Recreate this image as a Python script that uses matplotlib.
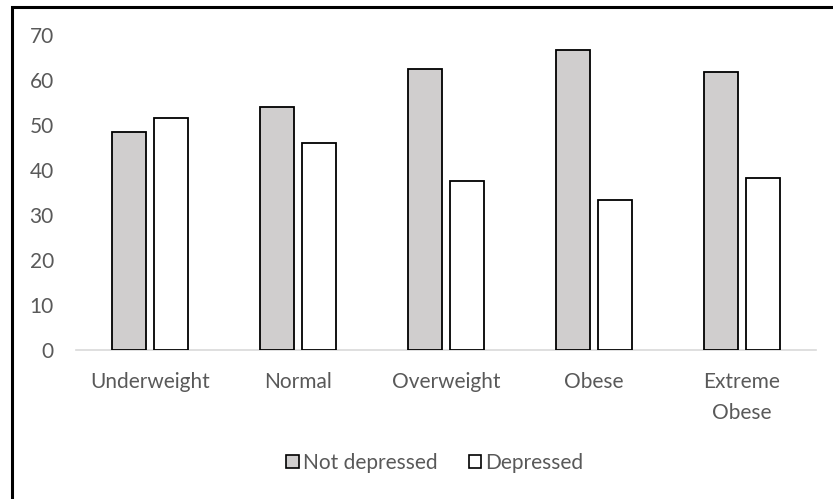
import matplotlib
matplotlib.use("Agg")
import matplotlib.pyplot as plt
import numpy as np
from matplotlib.patches import Patch, Rectangle

categories = ["Underweight", "Normal", "Overweight", "Obese", "Extreme\nObese"]
not_depressed = [48.4, 54.0, 62.4, 66.6, 61.7]
depressed = [51.6, 46.0, 37.6, 33.4, 38.3]
series_names = ["Not depressed", "Depressed"]
y_ticks = [0, 10, 20, 30, 40, 50, 60, 70]

W, H = 833, 499
plt.rcParams["font.family"] = ["Lato", "DejaVu Sans"]
FS = 15

fig = plt.figure(figsize=(W / 100, H / 100), dpi=100)
ax = fig.add_axes([76 / W, 1 - 350 / H, (816 - 76) / W, (350 - 35) / H])

x = np.arange(len(categories))
bw = 0.23
off = 0.143
ax.bar(x - off, not_depressed, bw, color="#d0cece", edgecolor="black", linewidth=1.3, zorder=3)
ax.bar(x + off, depressed, bw, color="white", edgecolor="black", linewidth=1.3, zorder=3)

ax.set_xlim(-0.5, len(categories) - 0.5)
ax.set_ylim(0, 70)
ax.set_yticks(y_ticks)
ax.set_xticks(x)
ax.set_xticklabels(categories, linespacing=1.7)
ax.tick_params(axis="both", length=0, labelsize=FS, colors="#595959")
ax.tick_params(axis="y", pad=16)
ax.tick_params(axis="x", pad=16)
for s in ["top", "right", "left"]:
    ax.spines[s].set_visible(False)
ax.spines["bottom"].set_color("#d9d9d9")
ax.spines["bottom"].set_linewidth(1.2)

handles = [Patch(facecolor="#d0cece", edgecolor="black", linewidth=1.2),
           Patch(facecolor="white", edgecolor="black", linewidth=1.2)]
fig.legend(handles, series_names, loc="center", bbox_to_anchor=(435 / W, 1 - 463 / H),
           ncol=2, frameon=False, handlelength=0.6, handleheight=0.6,
           handletextpad=0.2, columnspacing=1.5, fontsize=FS, labelcolor="#595959")

# chart frame, running off the right and bottom edges
fig.patches.append(Rectangle((12 / W, -0.05), 1.0, 1 - 7 / H + 0.05, transform=fig.transFigure,
                             fill=False, edgecolor="black", linewidth=2.2, clip_on=False))

fig.savefig("out.png", dpi=100)
